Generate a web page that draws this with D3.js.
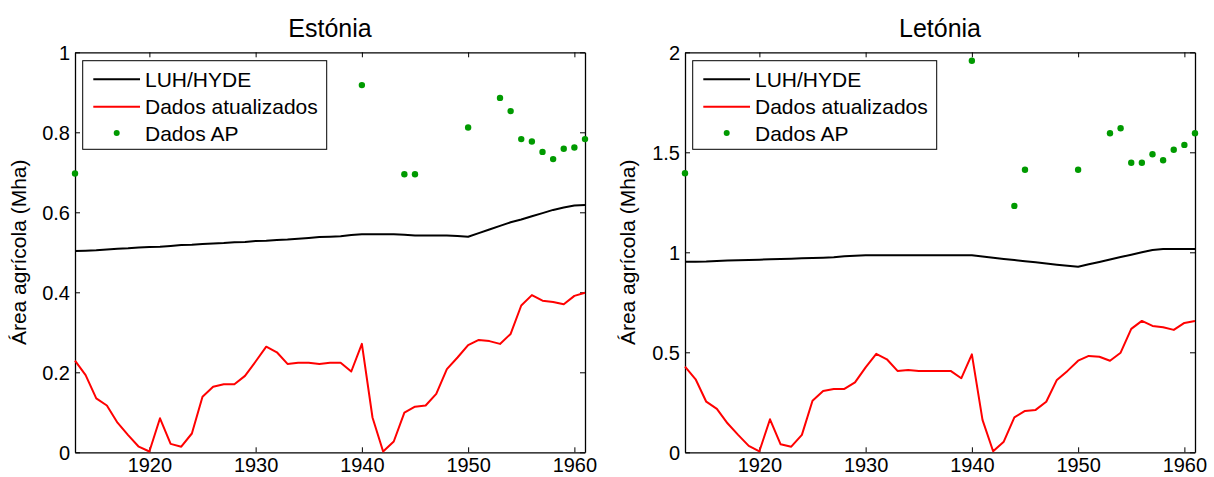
<!DOCTYPE html>
<html>
<head>
<meta charset="utf-8">
<script src="https://cdn.jsdelivr.net/npm/d3@7"></script>
<style>
  html, body { margin: 0; padding: 0; background: #fff; }
  svg { display: block; font-family: "Liberation Sans", Arial, sans-serif; }
</style>
</head>
<body>
<svg id="chart" width="1214" height="477"></svg>
<script>
// Years covered by the annual series
const years = [1913, 1914, 1915, 1916, 1917, 1918, 1919, 1920, 1921, 1922,
  1923, 1924, 1925, 1926, 1927, 1928, 1929, 1930, 1931, 1932,
  1933, 1934, 1935, 1936, 1937, 1938, 1939, 1940, 1941, 1942,
  1943, 1944, 1945, 1946, 1947, 1948, 1949, 1950, 1951, 1952,
  1953, 1954, 1955, 1956, 1957, 1958, 1959, 1960, 1961];

// Estonia — LUH/HYDE agricultural area (Mha)
const estoniaLUH = [0.503, 0.504, 0.505, 0.507, 0.509, 0.510, 0.512, 0.513, 0.514, 0.516,
  0.518, 0.519, 0.521, 0.522, 0.523, 0.525, 0.526, 0.528, 0.529, 0.531,
  0.532, 0.534, 0.536, 0.538, 0.539, 0.540, 0.543, 0.545, 0.545, 0.545,
  0.545, 0.544, 0.542, 0.542, 0.542, 0.542, 0.541, 0.539, 0.548, 0.557,
  0.566, 0.575, 0.582, 0.590, 0.598, 0.606, 0.612, 0.617, 0.618];

// Estonia — updated data (Mha)
const estoniaUpdated = [0.229, 0.193, 0.135, 0.117, 0.074, 0.043, 0.014, 0.002, 0.085, 0.021,
  0.014, 0.047, 0.139, 0.164, 0.170, 0.170, 0.191, 0.227, 0.264, 0.250,
  0.221, 0.224, 0.224, 0.221, 0.224, 0.224, 0.202, 0.271, 0.087, 0.002,
  0.027, 0.099, 0.114, 0.117, 0.146, 0.208, 0.237, 0.268, 0.281, 0.278,
  0.271, 0.296, 0.367, 0.393, 0.379, 0.376, 0.370, 0.391, 0.399];

// Estonia — AP data points
const estoniaAPYears = [1913, 1940, 1944, 1945, 1950, 1953, 1954, 1955, 1956, 1957, 1958, 1959, 1960, 1961];
const estoniaAP = [0.697, 0.918, 0.695, 0.695, 0.812, 0.886, 0.853, 0.783, 0.777, 0.751, 0.733, 0.759, 0.762, 0.783];

// Latvia — LUH/HYDE agricultural area (Mha)
const latviaLUH = [0.953, 0.953, 0.954, 0.957, 0.959, 0.960, 0.962, 0.963, 0.965, 0.966,
  0.968, 0.970, 0.971, 0.973, 0.975, 0.980, 0.983, 0.985, 0.985, 0.985,
  0.985, 0.985, 0.985, 0.985, 0.985, 0.985, 0.985, 0.985, 0.979, 0.973,
  0.967, 0.961, 0.955, 0.950, 0.944, 0.938, 0.933, 0.928, 0.940, 0.952,
  0.964, 0.976, 0.988, 1.000, 1.012, 1.016, 1.016, 1.016, 1.016];

// Latvia — updated data (Mha)
const latviaUpdated = [0.428, 0.365, 0.253, 0.217, 0.145, 0.087, 0.032, 0.005, 0.165, 0.040,
  0.028, 0.087, 0.258, 0.307, 0.317, 0.317, 0.350, 0.425, 0.492, 0.465,
  0.407, 0.412, 0.407, 0.407, 0.407, 0.407, 0.370, 0.490, 0.162, 0.005,
  0.053, 0.175, 0.207, 0.212, 0.253, 0.362, 0.407, 0.458, 0.482, 0.478,
  0.458, 0.498, 0.617, 0.657, 0.632, 0.625, 0.612, 0.647, 0.657];

// Latvia — AP data points
const latviaAPYears = [1913, 1940, 1944, 1945, 1950, 1953, 1954, 1955, 1956, 1957, 1958, 1959, 1960, 1961];
const latviaAP = [1.395, 1.958, 1.232, 1.413, 1.413, 1.595, 1.620, 1.448, 1.448, 1.490, 1.460, 1.513, 1.537, 1.595];

// Axis ticks and labels
const xTicks = [1920, 1930, 1940, 1950, 1960];
const estoniaYTicks = [0, 0.2, 0.4, 0.6, 0.8, 1];
const latviaYTicks = [0, 0.5, 1, 1.5, 2];
const legendLabels = ["LUH/HYDE", "Dados atualizados", "Dados AP"];
const yAxisLabel = "Área agrícola (Mha)";

const svg = d3.select("#chart");
const FONT = "'Liberation Sans', Arial, sans-serif";

function drawPanel(opts) {
  const { left, right, top, bottom, title, yMax, yTicks, luh, upd, apYears, ap, ylabelX } = opts;
  const x = d3.scaleLinear().domain([1913, 1961]).range([left, right]);
  const y = d3.scaleLinear().domain([0, yMax]).range([bottom, top]);
  const g = svg.append("g");

  // Title
  g.append("text")
    .attr("x", (left + right) / 2).attr("y", 37)
    .attr("text-anchor", "middle")
    .attr("font-size", 25).attr("fill", "#000")
    .text(title);

  // Y-axis label
  g.append("text")
    .attr("transform", `translate(${ylabelX},${(top + bottom) / 2}) rotate(-90)`)
    .attr("text-anchor", "middle")
    .attr("font-size", 21).attr("fill", "#000")
    .text(yAxisLabel);

  // Axes with inward ticks (bottom/left labelled, top/right mirrored)
  const fmt = d => String(d);
  const axB = g.append("g").attr("transform", `translate(0,${bottom})`)
    .call(d3.axisBottom(x).tickValues(xTicks).tickSizeInner(-5).tickSizeOuter(0).tickFormat(fmt));
  const axT = g.append("g").attr("transform", `translate(0,${top})`)
    .call(d3.axisTop(x).tickValues(xTicks).tickSizeInner(-5).tickSizeOuter(0).tickFormat(""));
  const axL = g.append("g").attr("transform", `translate(${left},0)`)
    .call(d3.axisLeft(y).tickValues(yTicks).tickSizeInner(-5).tickSizeOuter(0).tickFormat(fmt));
  const axR = g.append("g").attr("transform", `translate(${right},0)`)
    .call(d3.axisRight(y).tickValues(yTicks).tickSizeInner(-5).tickSizeOuter(0).tickFormat(""));

  [axB, axT, axL, axR].forEach(a => {
    a.attr("font-family", FONT).attr("font-size", 20);
    a.select(".domain").attr("stroke", "#000").attr("stroke-width", 1.3);
    a.selectAll(".tick line").attr("stroke", "#000").attr("stroke-width", 1);
    a.selectAll("text").attr("font-family", FONT).attr("font-size", 20).attr("fill", "#000");
  });
  axB.selectAll(".tick text").attr("dy", null).attr("y", 20);
  axL.selectAll(".tick text").attr("x", -5).attr("dy", "0.35em");

  // LUH/HYDE line
  const line = d3.line().x((d, i) => x(years[i])).y(d => y(d));
  g.append("path").datum(luh)
    .attr("fill", "none").attr("stroke", "#000").attr("stroke-width", 2)
    .attr("stroke-linejoin", "round").attr("d", line);

  // Updated data line
  g.append("path").datum(upd)
    .attr("fill", "none").attr("stroke", "#ff0000").attr("stroke-width", 2)
    .attr("stroke-linejoin", "round").attr("d", line);

  // AP points
  g.selectAll("circle.ap").data(ap).enter().append("circle")
    .attr("class", "ap")
    .attr("cx", (d, i) => x(apYears[i])).attr("cy", d => y(d))
    .attr("r", 3.2).attr("fill", "#009a00");

  // Legend
  const lx = left + 7.7, ly = 60.7, lw = 244, lh = 88.6;
  const lg = g.append("g");
  lg.append("rect").attr("x", lx).attr("y", ly).attr("width", lw).attr("height", lh)
    .attr("fill", "#fff").attr("stroke", "#000").attr("stroke-width", 1);
  const rows = [79.3, 106.7, 133];
  lg.append("line").attr("x1", left + 18.3).attr("x2", left + 65).attr("y1", rows[0]).attr("y2", rows[0])
    .attr("stroke", "#000").attr("stroke-width", 2);
  lg.append("line").attr("x1", left + 18.3).attr("x2", left + 65).attr("y1", rows[1]).attr("y2", rows[1])
    .attr("stroke", "#ff0000").attr("stroke-width", 2);
  lg.append("circle").attr("cx", left + 41.7).attr("cy", rows[2]).attr("r", 3)
    .attr("fill", "#009a00");
  legendLabels.forEach((t, i) => {
    lg.append("text").attr("x", left + 70).attr("y", rows[i] + 7.6)
      .attr("font-size", 21).attr("fill", "#000").text(t);
  });
}

drawPanel({
  left: 75, right: 585, top: 52.3, bottom: 452.3,
  title: "Estónia", yMax: 1, yTicks: estoniaYTicks,
  luh: estoniaLUH, upd: estoniaUpdated, apYears: estoniaAPYears, ap: estoniaAP,
  ylabelX: 26
});

drawPanel({
  left: 685, right: 1195, top: 52.3, bottom: 452.3,
  title: "Letónia", yMax: 2, yTicks: latviaYTicks,
  luh: latviaLUH, upd: latviaUpdated, apYears: latviaAPYears, ap: latviaAP,
  ylabelX: 635
});
</script>
</body>
</html>
